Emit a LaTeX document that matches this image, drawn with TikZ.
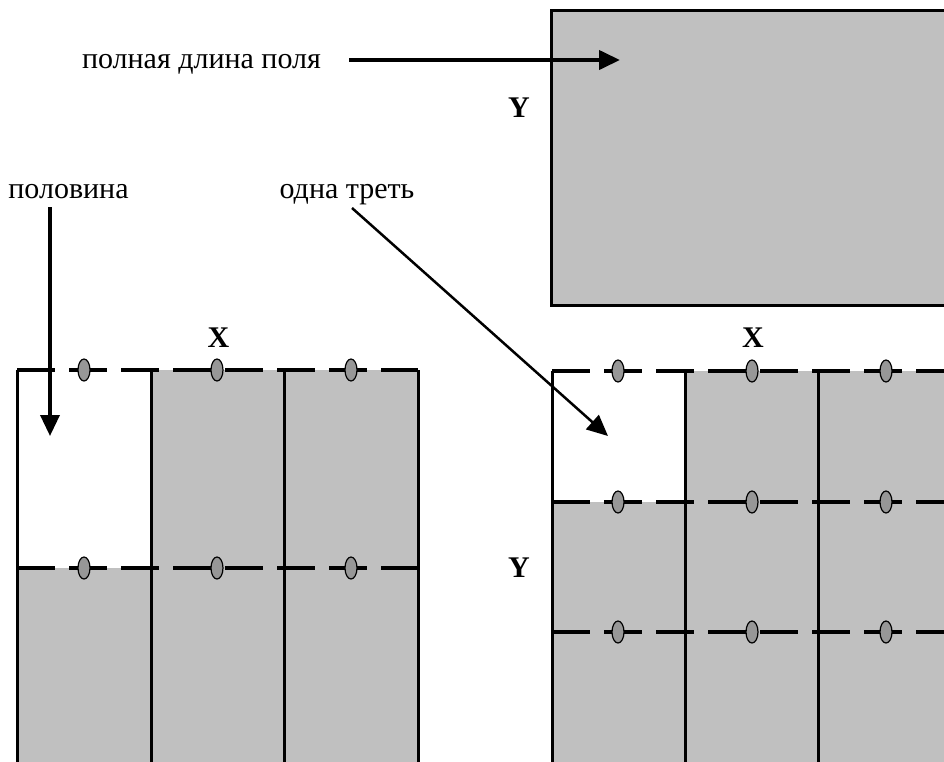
\documentclass[tikz,border=0pt]{standalone}
\usepackage{fontspec}
\setmainfont{Liberation Serif}
\usetikzlibrary{arrows.meta,shapes.geometric}
\definecolor{cellgray}{HTML}{C0C0C0}
\definecolor{markgray}{HTML}{979797}

\begin{document}
\begin{tikzpicture}[x=1pt,y=-1pt,
  gridline/.style={line width=3pt},
  cutline/.style={line width=4.5pt, dash pattern=on 38pt off 14pt},
  marker/.style={ellipse, draw=black, line width=1.2pt, fill=markgray,
    minimum width=12pt, minimum height=22pt, inner sep=0pt},
  lbl/.style={font=\fontsize{30}{33}\selectfont, inner sep=0pt, anchor=base},
  axis/.style={font=\bfseries\fontsize{30}{33}\selectfont, inner sep=0pt},
  pointer/.style={-{Triangle[length=21pt,width=19pt]}, line width=3.5pt}
]
\useasboundingbox (0,0) rectangle (944,761);
\clip (0,0) rectangle (944,761);

% whole field
\draw[fill=cellgray, line width=3pt] (551,10) rectangle (960,305);

% field split in half
\fill[cellgray] (17,370) rectangle (418,780);
\fill[white] (17,370) rectangle (151,568);
\foreach \x in {17,151,284,418}
  \draw[gridline] (\x,370) -- (\x,780);
\draw[cutline] (17,370) -- (418,370);
\draw[cutline] (17,568) -- (418,568);
\foreach \x/\n in {84/a,217/b,351/c} {
  \node[marker] (h1\n) at (\x,370) {};
  \node[marker] (h2\n) at (\x,568) {};
}

% field split in thirds
\fill[cellgray] (552,371) rectangle (960,780);
\fill[white] (552,371) rectangle (685,502);
\foreach \x in {552,685,818,951}
  \draw[gridline] (\x,371) -- (\x,780);
\foreach \y in {371,502,632}
  \draw[cutline] (552,\y) -- (960,\y);
\foreach \x/\n in {618/a,752/b,886/c} {
  \node[marker] (t1\n) at (\x,371) {};
  \node[marker] (t2\n) at (\x,502) {};
  \node[marker] (t3\n) at (\x,632) {};
}

% axis letters
\node[axis] (yfull) at (519,108) {Y};
\node[axis] (xhalf) at (218.5,338) {X};
\node[axis] (xthird) at (753,338) {X};
\node[axis] (ythird) at (519,568) {Y};

% captions and pointers
\node[lbl] (full) at (201.5,68) {полная длина поля};
\coordinate (fullstart) at (349,60);
\coordinate (fullend) at (620,60);
\draw[pointer, line width=4pt] (fullstart) -- (fullend);

\node[lbl] (half) at (68.5,198) {половина};
\coordinate (halfstart) at (50,207);
\coordinate (halfend) at (50,436);
\draw[pointer] (halfstart) -- (halfend);

\node[lbl] (third) at (347,198) {одна треть};
\coordinate (thirdstart) at (352,208);
\coordinate (thirdend) at (608,436);
\draw[pointer, line width=2.5pt] (thirdstart) -- (thirdend);
\end{tikzpicture}
\end{document}
